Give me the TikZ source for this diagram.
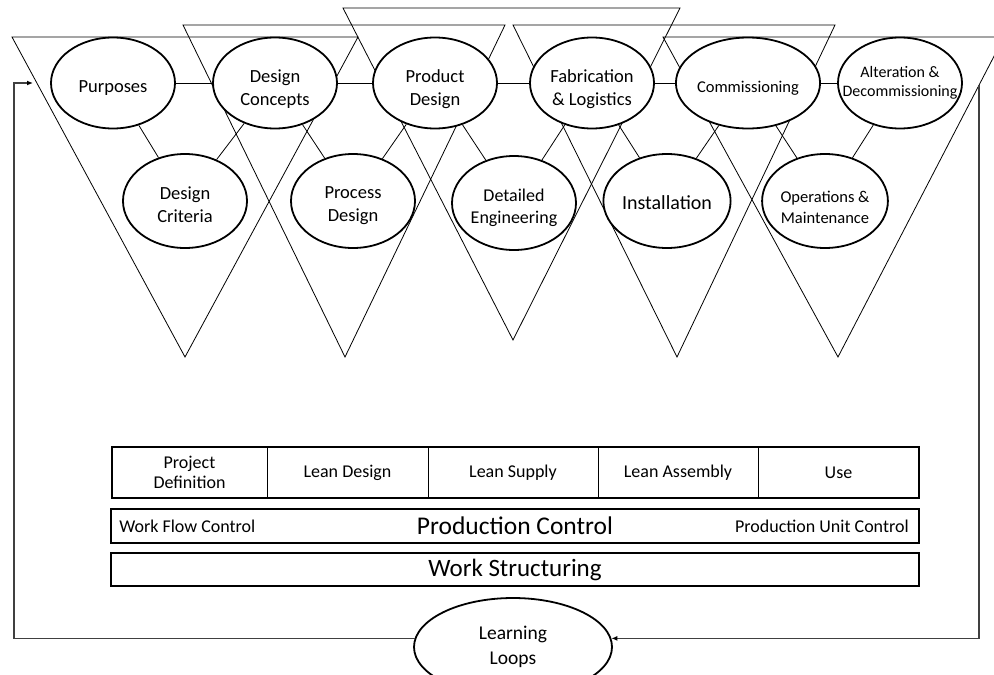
\documentclass[tikz,border=0pt]{standalone}
\usepackage{fontspec}
\setmainfont{Carlito}
\usetikzlibrary{shapes,arrows,arrows.meta,positioning,calc,matrix}
\usepackage{xcolor}

\tikzset{
  stage/.style={draw, ellipse, line width=1.8pt, fill=white, minimum width=124pt,
    minimum height=91pt, inner sep=0pt, align=center, text height=22pt,
    font=\fontsize{18.5}{23}\selectfont},
  vee/.style={line width=0.8pt},
  link/.style={line width=0.8pt},
  cell/.style={draw, line width=1pt, minimum height=51pt, inner sep=0pt, outer sep=0pt,
    align=center, font=\fontsize{18}{20}\selectfont},
  bar/.style={draw, line width=1.8pt, minimum width=808pt, inner sep=0pt},
  loopline/.style={line width=1.4pt, draw=black!75,
    -{Latex[length=6pt,width=5pt,color=black]}},
}

\begin{document}
\begin{tikzpicture}[x=1pt,y=-1pt]
\clip (0,0) rectangle (994,675);
\fill[white] (0,0) rectangle (994,675);

% phase V shapes
\foreach \l/\r/\t/\ax/\ay in {12/358/37/185/357, 183/505/25/345/357, 343/680/8/513/340,
                               513/835/25/677/357, 663/1004/37/838/357}
  \draw[vee] (\l,\t) -- (\r,\t) -- (\ax,\ay) -- cycle;

% upper row
\node[stage] (purp) at (113,83) {Purposes};
\node[stage, text height=48pt] (conc) at (275,83) {Design\\Concepts};
\node[stage, text height=48pt] (prod) at (435,83) {Product\\Design};
\node[stage, text height=48pt] (fab) at (592,83) {Fabrication\\\& Logistics};
\node[stage, font=\fontsize{16.5}{20}\selectfont] (comm) at (748,83) {Commissioning};
\node[stage, label={[align=center, font=\fontsize{16}{19}\selectfont]center:Alteration \&\\Decommissioning}] (alt) at (900,83) {};

% lower row
\node[stage, minimum height=94pt, text height=44pt] (crit) at (185,201) {Design\\Criteria};
\node[stage, minimum height=94pt, text height=44pt] (proc) at (353,201) {Process\\Design};
\node[stage, minimum height=94pt, text height=44pt, font=\fontsize{18}{22}\selectfont] (deng) at (514,203) {Detailed\\Engineering};
\node[stage, minimum height=94pt, font=\fontsize{20}{24}\selectfont, text height=18pt] (inst) at (667,201) {Installation};
\node[stage, minimum height=94pt, text height=46pt, font=\fontsize{16.5}{21}\selectfont] (opm) at (825,201) {Operations \&\\Maintenance};

\foreach \a/\b in {purp/conc, conc/prod, prod/fab, fab/comm, comm/alt,
                   purp/crit, crit/conc, conc/proc, proc/prod, prod/deng,
                   deng/fab, fab/inst, inst/comm, comm/opm, opm/alt}
  \draw[link] (\a) -- (\b);

% project phases
\node[cell, minimum width=155pt, anchor=west] (pdef) at (112,472.5) {Project\\Definition};
\node[cell, minimum width=161pt, right=0pt of pdef] (ldes) {Lean Design};
\node[cell, minimum width=170pt, right=0pt of ldes] (lsup) {Lean Supply};
\node[cell, minimum width=160pt, right=0pt of lsup] (lass) {Lean Assembly};
\node[cell, minimum width=161pt, right=0pt of lass] (use) {Use};
\draw[line width=1.8pt] (pdef.north west) rectangle (use.south east);

\node[bar, minimum height=34pt, font=\fontsize{25.5}{28}\selectfont] (pctl) at (515,526) {Production Control};
\node[right=9pt of pctl.west, inner sep=0pt, font=\fontsize{18}{21}\selectfont] (wfc) {Work Flow Control};
\node[left=11pt of pctl.east, inner sep=0pt, font=\fontsize{18}{21}\selectfont] (puc) {Production Unit Control};

\node[bar, minimum height=33pt, font=\fontsize{25}{28}\selectfont] (wstr) at (515,569.5) {Work Structuring};

% feedback
\node[stage, minimum width=198pt, minimum height=98pt, font=\fontsize{19.5}{25}\selectfont,
      text height=] (learn) at (513,647) {Learning\\Loops};
\coordinate (tap) at (979,85);
\coordinate (corner) at (14,83);
\coordinate (back) at (33,83);
\draw[loopline] (tap) |- (learn.5);
\draw[loopline] (learn.175) -| (corner) -- (back);
\end{tikzpicture}
\end{document}
